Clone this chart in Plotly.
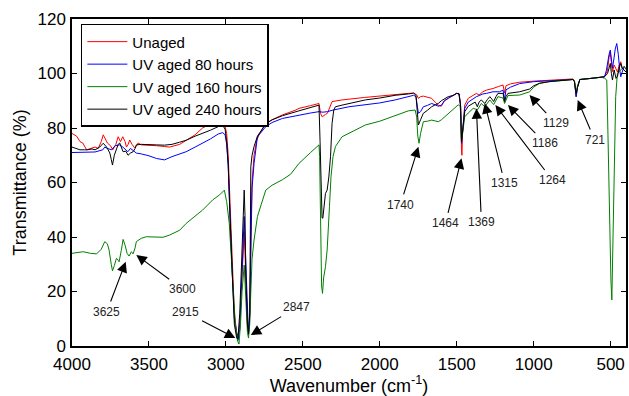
import plotly.graph_objects as go

# ---------------- data ----------------
wn_unaged = [4000, 3970, 3948, 3930, 3905, 3880, 3850, 3830, 3810, 3797, 3785, 3770, 3750, 3735,
             3715, 3700, 3685, 3670, 3655, 3646, 3635, 3625, 3610, 3593, 3580, 3571, 3549, 3500,
             3450, 3400, 3366, 3300, 3258, 3200, 3152, 3100, 3043, 3020, 3010, 2995, 2985, 2975,
             2960, 2945, 2930, 2922, 2910, 2895, 2881, 2870, 2860, 2853, 2845, 2838, 2830, 2817,
             2800, 2780, 2741, 2700, 2633, 2550, 2525, 2450, 2395, 2385, 2374, 2353, 2340, 2310,
             2280, 2245, 2100, 2000, 1900, 1814, 1780, 1760, 1749, 1735, 1717, 1690, 1663, 1640,
             1620, 1600, 1580, 1555, 1520, 1501, 1485, 1475, 1469, 1466, 1462, 1455, 1448, 1425,
             1393, 1372, 1355, 1330, 1307, 1280, 1264, 1230, 1199, 1189, 1180, 1150, 1091, 1000,
             900, 800, 745, 735, 724, 715, 700, 628, 560, 540, 528, 520, 510, 502, 495, 488, 477,
             465, 455, 445, 434, 425, 412, 400]
t_unaged = [78.0, 77.0, 75.0, 74.5, 72.0, 72.5, 73.0, 72.5, 75.0, 77.5, 76.0, 74.5, 73.5, 72.0,
            74.0, 76.8, 75.0, 76.8, 75.0, 73.0, 74.0, 75.6, 74.0, 72.7, 73.5, 74.5, 73.8, 73.7,
            73.5, 73.2, 73.0, 74.0, 75.6, 77.5, 80.0, 81.5, 82.7, 82.4, 81.8, 78.0, 70.0, 55.0,
            30.0, 12.0, 5.0, 3.5, 8.0, 25.0, 42.0, 25.0, 8.0, 5.0, 10.0, 40.0, 60.0, 70.0,
            75.5, 78.0, 81.7, 83.0, 84.8, 86.5, 87.2, 88.2, 89.0, 85.4, 84.1, 85.0, 85.4, 89.7,
            90.0, 90.3, 91.2, 91.8, 92.4, 92.7, 92.8, 92.2, 90.9, 91.5, 91.7, 91.3, 90.9, 89.5,
            88.4, 88.0, 90.0, 90.9, 92.0, 92.7, 92.7, 89.0, 72.0, 70.0, 78.0, 85.0, 88.4, 90.9,
            91.9, 92.7, 92.1, 93.3, 93.9, 94.2, 94.5, 95.2, 95.8, 92.8, 95.5, 96.2, 96.8, 97.2,
            97.5, 97.8, 98.0, 97.5, 91.5, 95.0, 97.8, 98.2, 98.6, 98.8, 100.0, 101.3, 106.0, 108.0,
            104.0, 100.7, 103.1, 101.9, 100.5, 103.0, 104.3, 102.0, 101.3, 100.5]

wn_80h = [4000, 3950, 3900, 3850, 3800, 3787, 3770, 3743, 3720, 3690, 3670, 3650, 3637, 3620,
          3600, 3582, 3550, 3500, 3450, 3398, 3350, 3300, 3258, 3200, 3152, 3100, 3050, 3021,
          3005, 2995, 2985, 2975, 2960, 2945, 2930, 2922, 2910, 2895, 2881, 2870, 2860, 2853,
          2845, 2838, 2830, 2817, 2800, 2795, 2741, 2700, 2633, 2525, 2450, 2395, 2370, 2340,
          2310, 2200, 2094, 2000, 1900, 1814, 1780, 1765, 1755, 1749, 1735, 1717, 1690, 1663,
          1640, 1620, 1600, 1580, 1555, 1520, 1501, 1485, 1475, 1469, 1463, 1455, 1448, 1425,
          1393, 1372, 1350, 1330, 1307, 1264, 1222, 1199, 1189, 1180, 1150, 1091, 1000, 900,
          800, 745, 735, 724, 715, 700, 628, 560, 540, 528, 520, 510, 502, 495, 488, 477, 470,
          460, 450, 440, 434, 425, 412, 400]
t_80h = [71.0, 71.0, 71.0, 71.2, 72.0, 73.0, 72.5, 72.0, 73.5, 73.8, 73.0, 72.0, 71.3, 72.5,
         71.5, 70.8, 70.5, 69.8, 68.8, 68.3, 69.5, 70.5, 71.3, 73.0, 74.4, 76.0, 77.8, 78.3,
         77.5, 74.0, 66.0, 50.0, 28.0, 10.0, 3.5, 2.0, 6.0, 30.0, 47.5, 30.0, 10.0, 4.0,
         12.0, 40.0, 58.0, 67.0, 74.5, 76.8, 80.5, 82.0, 83.5, 84.8, 85.5, 86.0, 85.8, 86.0,
         86.5, 87.8, 88.6, 89.2, 90.3, 91.5, 92.0, 91.5, 87.0, 85.4, 86.0, 87.8, 88.3, 89.0,
         88.5, 88.0, 88.3, 90.0, 90.9, 92.0, 92.7, 92.5, 88.0, 74.4, 78.0, 84.0, 87.2, 89.5,
         90.9, 91.5, 92.0, 92.5, 92.7, 93.3, 93.3, 93.9, 90.3, 94.0, 95.0, 96.3, 97.0, 97.4,
         97.7, 97.8, 97.0, 91.5, 95.0, 97.8, 98.2, 98.6, 98.8, 101.0, 104.0, 107.0, 108.6, 105.0,
         101.9, 106.0, 109.0, 111.0, 107.0, 101.0, 98.8, 100.5, 102.6, 101.5]

wn_160h = [4000, 3960, 3927, 3880, 3840, 3810, 3787, 3770, 3759, 3745, 3737, 3725, 3711, 3700,
           3694, 3680, 3668, 3655, 3642, 3629, 3620, 3614, 3603, 3590, 3582, 3550, 3517, 3450,
           3409, 3366, 3300, 3258, 3200, 3151, 3086, 3040, 3010, 2995, 2978, 2957, 2939, 2925,
           2915, 2905, 2895, 2881, 2870, 2860, 2853, 2845, 2838, 2830, 2817, 2795, 2770, 2741,
           2700, 2633, 2580, 2525, 2450, 2407, 2395, 2391, 2385, 2378, 2372, 2365, 2353, 2342,
           2327, 2317, 2304, 2288, 2245, 2201, 2094, 2000, 1922, 1814, 1770, 1760, 1753, 1745,
           1735, 1717, 1690, 1663, 1640, 1620, 1600, 1555, 1520, 1490, 1478, 1472, 1469, 1463,
           1455, 1448, 1425, 1393, 1380, 1366, 1340, 1318, 1285, 1260, 1232, 1199, 1189, 1167,
           1091, 1026, 1000, 962, 900, 800, 745, 735, 724, 715, 700, 628, 560, 540, 525, 520,
           510, 498, 492, 483, 477, 467, 456, 434, 412, 400]
t_160h = [34.0, 34.3, 34.6, 34.0, 33.8, 35.5, 38.3, 37.5, 35.2, 30.0, 27.6, 29.5, 32.2, 31.5,
          30.9, 35.0, 39.1, 37.0, 34.0, 33.0, 34.0, 34.6, 33.8, 36.0, 38.3, 39.5, 40.1, 40.0,
          39.9, 40.7, 42.5, 45.0, 47.5, 49.9, 53.6, 55.5, 57.2, 53.0, 45.0, 26.8, 8.4, 2.0,
          0.7, 8.0, 20.0, 29.7, 15.0, 5.0, 2.9, 8.0, 20.0, 32.0, 38.9, 47.5, 52.0, 57.2,
          59.0, 61.0, 63.0, 67.0, 71.0, 73.2, 73.8, 69.5, 45.0, 22.0, 19.3, 25.0, 29.1, 35.2,
          51.1, 62.1, 69.5, 73.2, 76.8, 78.0, 81.1, 82.5, 84.1, 86.3, 86.6, 84.0, 77.0, 74.4,
          78.0, 82.3, 82.5, 82.9, 82.6, 82.3, 83.0, 85.4, 87.0, 88.5, 88.0, 84.0, 75.0, 78.0,
          82.0, 84.1, 85.5, 87.2, 87.0, 86.6, 89.0, 87.8, 90.3, 88.6, 91.5, 91.0, 89.0, 91.9,
          92.1, 93.3, 95.0, 96.4, 97.0, 97.6, 97.8, 97.3, 92.7, 95.5, 97.8, 98.2, 98.6, 98.3, 97.6, 85.5,
          54.8, 24.2, 16.9, 42.6, 73.2, 91.5, 100.0, 101.3, 102.6, 101.5]

wn_240h = [4000, 3970, 3948, 3920, 3900, 3870, 3850, 3820, 3797, 3775, 3754, 3745, 3737, 3725,
           3711, 3700, 3690, 3680, 3668, 3650, 3636, 3620, 3603, 3590, 3582, 3550, 3500, 3450,
           3400, 3350, 3300, 3258, 3200, 3151, 3100, 3050, 3032, 3015, 3005, 2995, 2985, 2975,
           2960, 2945, 2930, 2922, 2910, 2895, 2885, 2881, 2876, 2870, 2860, 2853, 2845, 2838,
           2830, 2817, 2795, 2741, 2700, 2633, 2525, 2450, 2407, 2395, 2388, 2380, 2375, 2370,
           2360, 2353, 2342, 2331, 2320, 2310, 2299, 2288, 2245, 2094, 2000, 1900, 1814, 1780,
           1765, 1755, 1749, 1735, 1717, 1690, 1663, 1640, 1620, 1600, 1555, 1520, 1501, 1485,
           1475, 1469, 1463, 1455, 1448, 1425, 1393, 1380, 1366, 1355, 1340, 1318, 1300, 1285,
           1270, 1260, 1245, 1232, 1199, 1189, 1180, 1167, 1091, 1026, 1000, 962, 900, 800, 745,
           735, 724, 715, 700, 628, 560, 540, 528, 520, 510, 502, 495, 488, 477, 465, 455, 445,
           434, 425, 412, 400]
t_240h = [73.0, 72.5, 72.0, 72.0, 72.0, 72.3, 72.0, 73.0, 74.4, 73.0, 70.8, 68.5, 66.4, 70.0,
          72.7, 74.0, 74.5, 73.0, 71.3, 71.5, 70.0, 70.8, 71.3, 72.5, 73.8, 74.0, 74.0, 73.8,
          73.7, 74.0, 74.8, 75.5, 77.0, 78.0, 79.2, 80.5, 81.0, 80.5, 79.5, 75.0, 67.0, 50.0,
          25.0, 8.0, 3.0, 2.5, 12.0, 40.0, 55.0, 57.2, 48.0, 25.0, 8.0, 4.5, 12.0, 65.8,
          70.0, 73.2, 77.0, 81.5, 83.0, 84.5, 86.3, 87.5, 88.4, 88.4, 75.0, 55.0, 47.0, 46.9,
          52.0, 56.0, 57.2, 62.0, 69.5, 81.7, 86.6, 87.8, 88.4, 90.3, 91.0, 92.0, 92.5, 92.8,
          92.0, 83.0, 81.1, 83.0, 85.4, 86.5, 87.8, 88.5, 89.0, 90.0, 91.5, 92.0, 92.7, 92.5,
          88.0, 75.0, 78.0, 83.0, 86.0, 88.0, 89.0, 89.5, 87.8, 89.5, 90.3, 89.0, 90.5, 91.5,
          90.5, 89.7, 91.5, 92.7, 92.7, 89.7, 91.5, 92.7, 93.3, 94.3, 95.5, 96.4, 97.0, 97.6, 97.8,
          97.0, 92.5, 95.0, 97.8, 98.2, 98.6, 98.8, 99.5, 100.0, 102.0, 103.7, 100.0, 97.6, 101.3,
          98.2, 99.0, 102.0, 103.7, 102.0, 101.3, 100.5]

series_names = ["Unaged", "UV aged 80 hours", "UV aged 160 hours", "UV aged 240 hours"]
series_colors = ["#ff0000", "#0000ff", "#008000", "#000000"]

x_ticks = [4000, 3500, 3000, 2500, 2000, 1500, 1000, 500]
y_ticks = [0, 20, 40, 60, 80, 100, 120]

# peak labels: text, arrow-tip wavenumber, arrow-tip transmittance
peak_labels = ["3625", "3600", "2915", "2847", "1740", "1464", "1369", "1315", "1264", "1186", "1129", "721"]
peak_wn = [3651, 3582, 2939, 2838, 1749, 1469, 1372, 1318, 1249, 1167, 1027, 714]
peak_t = [30.9, 33.4, 2.9, 4.0, 73.1, 68.9, 87.2, 89.1, 88.4, 88.4, 92.1, 90.3]
# text offsets (pixels) from arrow tip
peak_ax = [-19, 46, -50, 46, -18, -16, 5, 20, 57, 37, 26, 17]
peak_ay = [50, 34, -26, -28, 58, 65, 114, 80, 75, 38, 28, 40]

# ---------------- figure ----------------
FONT = "Arial, Liberation Sans, sans-serif"
fig = go.Figure()
for wn, t, name, col in zip([wn_unaged, wn_80h, wn_160h, wn_240h],
                            [t_unaged, t_80h, t_160h, t_240h],
                            series_names, series_colors):
    fig.add_trace(go.Scatter(x=wn, y=t, mode="lines", name=name,
                             line=dict(color=col, width=1)))

for lab, x, y, ax, ay in zip(peak_labels, peak_wn, peak_t, peak_ax, peak_ay):
    fig.add_annotation(x=x, y=y, text=lab, showarrow=True, ax=ax, ay=ay,
                       arrowhead=2, arrowsize=1.9, arrowwidth=1.1, arrowcolor="#000000",
                       startstandoff=2, standoff=0,
                       font=dict(family=FONT, size=12, color="#222222"))

fig.update_layout(
    width=629, height=396,
    margin=dict(l=72, r=1, t=19, b=50),
    paper_bgcolor="white", plot_bgcolor="white",
    font=dict(family=FONT, color="#000000"),
    showlegend=True,
    legend=dict(x=0.016, y=0.985, xanchor="left", yanchor="top",
                bgcolor="white", bordercolor="#000000", borderwidth=1.5,
                font=dict(family=FONT, size=15, color="#000000"),
                itemwidth=40, tracegroupgap=0),
)
fig.update_xaxes(range=[4000, 400], tickvals=x_ticks, ticktext=[str(v) for v in x_ticks],
                 ticks="inside", ticklen=5, tickwidth=1, tickcolor="#000000",
                 showline=True, linecolor="#000000", linewidth=1.5, mirror="ticks",
                 showgrid=False, zeroline=False, ticklabelstandoff=2,
                 tickfont=dict(family=FONT, size=17, color="#000000"),
                 title=dict(text="Wavenumber (cm<sup>-1</sup>)", standoff=2,
                            font=dict(family=FONT, size=18, color="#000000")))
fig.update_yaxes(range=[0, 120], tickvals=y_ticks, ticktext=[str(v) for v in y_ticks],
                 ticks="inside", ticklen=5, tickwidth=1, tickcolor="#000000",
                 showline=True, linecolor="#000000", linewidth=1.5, mirror="ticks",
                 showgrid=False, zeroline=False, ticklabelstandoff=1,
                 tickfont=dict(family=FONT, size=17, color="#000000"),
                 title=dict(text="Transmittance (%)", standoff=6,
                            font=dict(family=FONT, size=18, color="#000000")))

fig.write_html("out.html")
